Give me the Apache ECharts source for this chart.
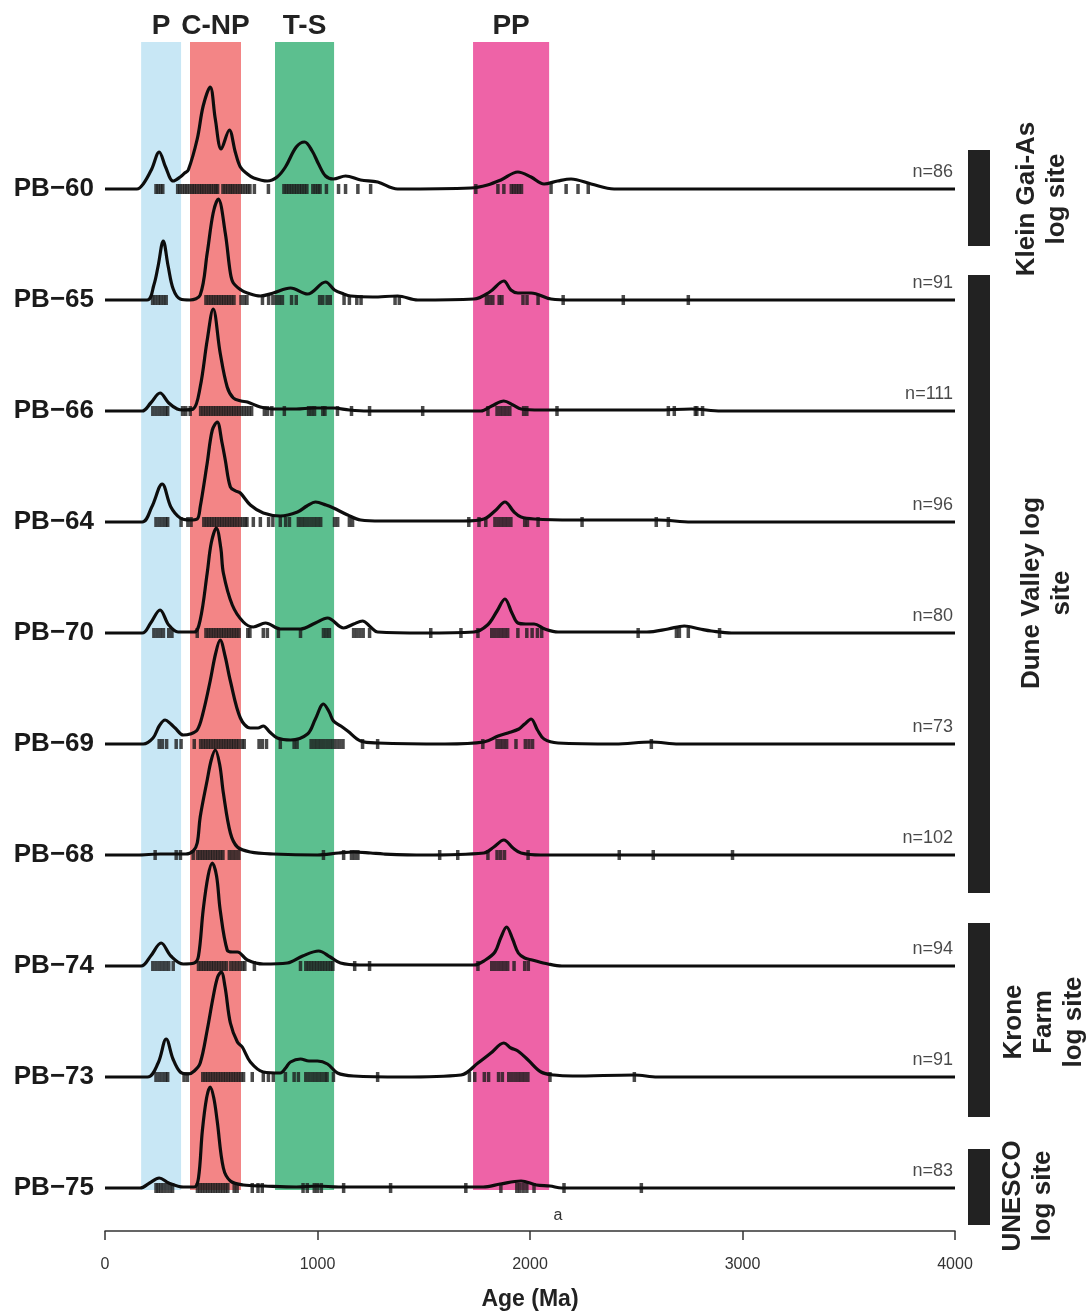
<!DOCTYPE html>
<html><head><meta charset="utf-8">
<script src="https://cdn.jsdelivr.net/npm/echarts@6.0.0/dist/echarts.min.js"></script>
<style>html,body{margin:0;padding:0;background:#fff}#c{width:1091px;height:1312px}</style>
</head><body><div id="c"></div>
<script>
// ---------- DATA ----------
const samples = ['PB−60','PB−65','PB−66','PB−64','PB−70','PB−69','PB−68','PB−74','PB−73','PB−75'];
const counts  = [86, 91, 111, 96, 80, 73, 102, 94, 91, 83];
const xTicks  = [0, 1000, 2000, 3000, 4000];

// KDE curves: [age (Ma), relative density]
const curve_PB60 = [[0,0],[150,0],[180,5],[220,20],[255,37],[285,22],[321,8],[354,12],[375,16],[392,19],[434,50],[462,83],[495,102],[519,70],[547,40],[585,59],[613,37],[637,22],[670,15],[700,11],[764,8],[810,12],[849,22],[900,42],[939,47],[975,38],[1005,25],[1038,13],[1075,10],[1132,13],[1203,9],[1283,7],[1377,0],[1722,1],[1800,4],[1863,9],[1943,17],[2005,12],[2066,5],[2130,8],[2193,10],[2288,5],[2396,0],[4000,0]];
const curve_PB65 = [[0,0],[198,0],[230,15],[250,34],[274,59],[297,34],[321,11],[354,1],[400,0],[448,5],[481,47],[509,87],[533,101],[566,67],[590,27],[604,17],[640,10],[670,7],[731,4],[792,7],[873,12],[953,6],[1038,18],[1080,10],[1123,6],[1156,4],[1260,3],[1377,4],[1472,0],[1736,1],[1810,8],[1877,19],[1910,10],[1943,7],[2005,7],[2099,1],[2200,0],[4000,0]];
const curve_PB66 = [[0,0],[175,0],[215,8],[259,18],[300,8],[340,2],[368,1],[415,2],[448,24],[481,71],[509,102],[542,58],[575,24],[604,13],[640,10],[670,9],[731,4],[792,2],[900,2],[981,3],[1075,3],[1150,1],[1236,0],[1769,0],[1820,5],[1877,10],[1920,6],[1958,2],[2050,1],[2600,1],[2759,2],[2900,0],[4000,0]];
const curve_PB64 = [[0,0],[175,0],[220,15],[269,38],[310,15],[354,4],[400,2],[434,3],[448,15],[481,59],[505,92],[528,100],[550,80],[566,62],[590,35],[615,31],[637,29],[684,17],[745,9],[825,6],[906,10],[950,16],[991,20],[1040,17],[1075,14],[1142,7],[1203,2],[1300,1],[1689,1],[1783,3],[1840,12],[1882,20],[1925,10],[1958,5],[2019,3],[2200,2],[2604,2],[2759,0],[4000,0]];
const curve_PB70 = [[0,0],[175,0],[215,10],[259,23],[300,8],[344,1],[420,1],[448,13],[481,60],[500,90],[524,105],[545,85],[557,60],[599,28],[651,11],[698,6],[755,10],[825,4],[920,4],[990,10],[1047,15],[1123,5],[1170,9],[1212,12],[1250,6],[1283,1],[1500,0],[1736,1],[1800,8],[1845,22],[1882,34],[1915,20],[1943,10],[1980,9],[2019,9],[2070,4],[2132,1],[2550,1],[2650,4],[2726,7],[2800,4],[2854,2],[2948,0],[4000,0]];
const curve_PB69 = [[0,0],[180,0],[226,6],[255,18],[283,24],[310,20],[330,16],[368,9],[401,10],[434,14],[460,30],[495,63],[520,90],[542,104],[565,88],[590,63],[637,26],[684,16],[720,16],[745,18],[775,12],[811,6],[873,4],[953,10],[990,25],[1028,40],[1055,32],[1075,23],[1110,18],[1142,13],[1203,3],[1283,1],[1600,0],[1783,2],[1850,8],[1896,11],[1948,15],[1975,20],[2005,25],[2035,14],[2066,5],[2132,1],[2400,0],[2571,2],[2700,0],[4000,0]];
const curve_PB68 = [[0,0],[150,0],[260,1],[380,1],[415,4],[434,12],[448,38],[481,75],[500,95],[519,105],[540,90],[557,62],[590,22],[623,8],[684,3],[792,1],[1000,0],[1100,2],[1170,3],[1250,2],[1311,1],[1500,0],[1783,2],[1830,8],[1877,15],[1920,7],[1958,2],[2050,0],[4000,0]];
const curve_PB74 = [[0,0],[170,0],[215,10],[264,23],[310,10],[368,2],[420,3],[440,10],[462,56],[485,90],[505,103],[525,90],[542,56],[575,16],[600,14],[623,14],[670,6],[745,2],[858,3],[930,10],[1005,15],[1060,9],[1108,3],[1200,1],[1736,1],[1790,6],[1835,14],[1862,28],[1890,39],[1918,27],[1945,13],[1975,8],[2010,6],[2085,2],[2150,0],[4000,0]];
const curve_PB73 = [[0,0],[200,0],[250,14],[288,38],[320,18],[354,5],[392,3],[420,6],[448,14],[481,47],[509,80],[530,100],[547,105],[565,90],[590,54],[623,35],[646,30],[684,15],[745,5],[825,4],[850,9],[873,15],[920,18],[960,16],[1000,16],[1047,13],[1094,4],[1170,1],[1400,0],[1675,2],[1755,14],[1816,24],[1877,34],[1910,29],[1943,26],[1991,17],[2052,5],[2113,2],[2200,1],[2491,2],[2600,0],[4000,0]];
const curve_PB75 = [[0,0],[165,0],[210,5],[255,10],[300,5],[368,1],[420,1],[440,10],[458,57],[478,90],[495,101],[512,90],[528,67],[557,20],[590,7],[651,3],[750,2],[900,1],[1000,2],[1100,1],[1500,1],[1780,1],[1860,4],[1958,7],[2030,3],[2094,2],[2150,0],[4000,0]];

// Individual grain ages (rug), Ma
const rug_PB60 = [240,250,262,272,342,352,364,376,386,398,410,420,432,444,455,466,478,490,500,512,522,530,555,566,578,590,600,612,624,636,648,660,672,682,703,769,842,854,866,878,890,902,914,926,938,950,978,990,1002,1012,1042,1099,1132,1190,1250,1745,1849,1877,1912,1924,1936,1948,1960,2099,2170,2226,2274];
const rug_PB65 = [224,236,250,262,276,288,475,487,499,511,523,535,547,559,571,583,595,607,640,655,668,741,770,790,805,820,835,878,900,1010,1025,1045,1060,1125,1150,1185,1205,1365,1385,1795,1810,1825,1855,1868,1967,1986,2038,2156,2439,2745];
const rug_PB66 = [225,240,255,270,285,295,365,380,401,450,462,474,486,498,510,522,534,546,558,570,582,594,606,618,630,642,654,666,678,690,750,765,785,844,958,972,986,1025,1035,1094,1160,1245,1495,1802,1845,1860,1875,1890,1905,1970,1985,2127,2651,2679,2778,2785,2812];
const rug_PB64 = [240,255,270,285,295,358,390,405,465,478,490,502,514,526,538,550,562,574,586,598,610,622,635,648,660,668,698,731,770,790,825,850,868,910,925,940,955,970,985,1000,1015,1080,1095,1150,1165,1712,1760,1792,1835,1850,1865,1880,1895,1910,1975,1988,2038,2245,2594,2651];
const rug_PB70 = [230,245,260,275,300,315,434,475,487,499,511,523,535,547,559,571,583,595,607,619,631,672,682,745,764,816,920,1028,1042,1056,1170,1185,1200,1215,1245,1533,1675,1755,1820,1835,1850,1865,1880,1895,1943,1985,2010,2035,2055,2509,2689,2703,2745,2892];
const rug_PB69 = [255,270,290,335,358,420,450,462,474,486,498,510,522,534,546,558,570,582,594,606,618,630,645,655,725,740,760,825,890,904,970,985,1000,1015,1030,1045,1060,1075,1090,1105,1120,1212,1283,1778,1845,1860,1875,1890,1934,1978,1995,2012,2571];
const rug_PB68 = [236,335,355,415,435,447,459,471,483,495,507,519,531,543,555,585,600,615,630,1028,1123,1160,1175,1190,1575,1660,1802,1845,1862,1880,1991,2420,2580,2953];
const rug_PB74 = [225,240,255,270,285,300,321,440,452,464,476,488,500,512,524,536,548,560,572,592,606,620,634,648,658,703,920,945,958,971,984,997,1010,1023,1036,1049,1062,1072,1175,1245,1755,1820,1835,1850,1865,1880,1895,1925,1975,1992];
const rug_PB73 = [240,255,270,285,295,372,388,460,472,484,496,508,520,532,544,556,568,580,592,604,616,628,640,652,693,745,769,792,849,890,910,945,960,975,990,1005,1020,1035,1045,1075,1283,1715,1740,1785,1805,1852,1870,1900,1915,1930,1945,1960,1975,1990,2094,2491];
const rug_PB75 = [240,250,262,275,290,305,318,435,447,459,471,483,495,507,519,531,543,555,567,578,608,622,693,720,740,932,952,985,1000,1018,1123,1344,1698,1863,1938,1952,1968,1985,2019,2160,2524];

// Reference age bands
const bandNames  = ['P', 'C-NP', 'T-S', 'PP'];
const bandStarts = [170, 400, 800, 1732];
const bandEnds   = [358, 640, 1078, 2090];

// Sites
const siteNames = ['Klein Gai-As\nlog site', 'Dune Valley log\nsite', 'Krone\nFarm\nlog site', 'UNESCO\nlog site'];

// ---------- STYLE / LAYOUT ----------
const curves = [curve_PB60, curve_PB65, curve_PB66, curve_PB64, curve_PB70, curve_PB69, curve_PB68, curve_PB74, curve_PB73, curve_PB75];
const rugs   = [rug_PB60, rug_PB65, rug_PB66, rug_PB64, rug_PB70, rug_PB69, rug_PB68, rug_PB74, rug_PB73, rug_PB75];
const bandColors = ['#c8e7f5', '#f38586', '#5cbf8f', '#ee63a7'];
const FONT = '"Liberation Sans", Arial, Helvetica, sans-serif';
const N = samples.length;
const ROW_GAP = 111, BASE0 = 43, YMAX = 1189;
const base = i => BASE0 + (N - 1 - i) * ROW_GAP;
const baseToName = {};
samples.forEach((s, i) => { baseToName[base(i)] = s; });

const series = [];
// bands
series.push({
  type: 'line', data: [], silent: true, z: 1,
  markArea: {
    silent: true,
    data: bandNames.map((nm, k) => [
      { name: nm, xAxis: bandStarts[k], yAxis: BASE0 - 2, itemStyle: { color: bandColors[k], opacity: 1 } },
      { xAxis: bandEnds[k], yAxis: YMAX }
    ]),
    label: { show: true, position: 'top', distance: 2, color: '#222', fontSize: 28, fontWeight: 'bold', fontFamily: FONT }
  }
});
// rugs + curves
curves.forEach((c, i) => {
  const b = base(i);
  series.push({
    type: 'scatter', silent: true, z: 3,
    symbol: 'rect', symbolSize: [3.5, 10],
    itemStyle: { color: '#1c1c1c' },
    data: rugs[i].map(a => [a, b])
  });
  series.push({
    type: 'line', silent: true, z: 4,
    smooth: 0.35, symbol: 'none',
    lineStyle: { color: '#0d0d0d', width: 3.2 },
    data: c.map(([a, h]) => [a, b + h])
  });
});
// n= labels
series.push({
  type: 'scatter', silent: true, z: 5, symbolSize: 0,
  data: samples.map((s, i) => ({ value: [xTicks[xTicks.length - 1], base(i)], nlabel: 'n=' + counts[i] })),
  label: {
    show: true, position: [-2, -8], align: 'right', verticalAlign: 'bottom',
    fontSize: 18, color: '#1a1a1a', fontFamily: FONT,
    formatter: p => p.data.nlabel
  }
});

const siteBars = [[150, 246], [275, 893], [923, 1117], [1149, 1225]];
const siteText = [[1042, 199], [1047, 593], [1044, 1022], [1028, 1196]];
const graphics = [];
siteBars.forEach(([y0, y1]) => graphics.push({
  type: 'rect', shape: { x: 968, y: y0, width: 22, height: y1 - y0 }, style: { fill: '#222' }
}));
siteNames.forEach((t, k) => graphics.push({
  type: 'text', x: siteText[k][0], y: siteText[k][1], rotation: Math.PI / 2,
  style: { text: t, x: 0, y: 0, align: 'center', verticalAlign: 'middle', lineHeight: 30,
           font: 'bold 26px ' + FONT, fill: '#222' }
}));
graphics.push({
  type: 'text', x: 558, y: 1216,
  style: { text: 'a', align: 'center', verticalAlign: 'middle', font: '16px ' + FONT, fill: '#333' }
});

const chart = echarts.init(document.getElementById('c'), null, { renderer: 'canvas' });
chart.setOption({
  animation: false,
  backgroundColor: '#fff',
  grid: { left: 105, right: 136, top: 42, bottom: 81, outerBoundsMode: 'none', containLabel: false },
  xAxis: {
    type: 'value', min: xTicks[0], max: xTicks[xTicks.length - 1], interval: 1000,
    axisLine: { show: true, lineStyle: { color: '#333', width: 1.5 } },
    axisTick: { show: true, length: 9, lineStyle: { color: '#333', width: 1.5 } },
    splitLine: { show: false },
    axisLabel: { fontSize: 16, color: '#333', margin: 26, fontFamily: FONT, formatter: v => String(v) },
    name: 'Age (Ma)', nameLocation: 'middle', nameGap: 57,
    nameTextStyle: { fontSize: 23, fontWeight: 'bold', color: '#222', fontFamily: FONT }
  },
  yAxis: {
    type: 'value', min: 0, max: YMAX,
    axisLine: { show: false }, axisTick: { show: false }, splitLine: { show: false },
    axisLabel: {
      customValues: samples.map((s, i) => base(i)),
      formatter: v => baseToName[v] || '',
      fontSize: 26, fontWeight: 'bold', color: '#1a1a1a', margin: 11, fontFamily: FONT
    }
  },
  series: series,
  graphic: { elements: graphics }
});
</script></body></html>
